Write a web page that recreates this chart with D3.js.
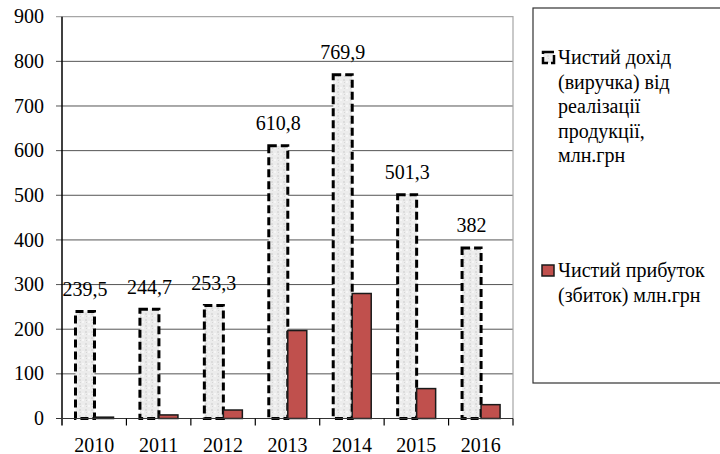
<!DOCTYPE html>
<html>
<head>
<meta charset="utf-8">
<script src="https://cdn.jsdelivr.net/npm/d3@7"></script>
<style>
  body { margin: 0; background: #fff; }
  svg { display: block; }
</style>
</head>
<body>
<svg id="chart" width="720" height="454"></svg>
<script>
const years = ['2010', '2011', '2012', '2013', '2014', '2015', '2016'];
const revenue = [239.5, 244.7, 253.3, 610.8, 769.9, 501.3, 382];
const profit = [3, 8, 19, 197, 280, 67, 31];
const revenueLabels = ['239,5', '244,7', '253,3', '610,8', '769,9', '501,3', '382'];
const yTicks = [0, 100, 200, 300, 400, 500, 600, 700, 800, 900];
const legendRevenue = ['Чистий дохід', '(виручка) від', 'реалізації', 'продукції,', 'млн.грн'];
const legendProfit = ['Чистий прибуток', '(збиток) млн.грн'];

const FONT = 'Liberation Serif, Tinos, Times, DejaVu Serif, serif';
const svg = d3.select('#chart').style('font-family', FONT);

const plotL = 62, plotR = 513, plotT = 16.7, plotB = 418.5;

const x = d3.scaleBand().domain(years).range([plotL, plotR]);
const y = d3.scaleLinear().domain([0, 900]).range([plotB, plotT]);

// speckled fill for revenue bars
const defs = svg.append('defs');
const pat = defs.append('pattern')
  .attr('id', 'speck').attr('patternUnits', 'userSpaceOnUse')
  .attr('width', 6).attr('height', 6);
pat.append('rect').attr('width', 6).attr('height', 6).attr('fill', '#ececec');
pat.append('rect').attr('x', 1).attr('y', 1).attr('width', 2).attr('height', 2).attr('fill', '#dcdcdc');
pat.append('rect').attr('x', 4).attr('y', 3).attr('width', 2).attr('height', 2).attr('fill', '#f6f6f6');
pat.append('rect').attr('x', 2).attr('y', 4).attr('width', 1).attr('height', 1).attr('fill', '#d6d6d6');

// gridlines
svg.append('g').selectAll('line')
  .data(yTicks.filter(d => d > 0 && d < 900))
  .join('line')
  .attr('x1', plotL - 6).attr('x2', plotR)
  .attr('y1', d => y(d)).attr('y2', d => y(d))
  .attr('stroke', '#555').attr('stroke-width', 1);

// plot border top/right
svg.append('path')
  .attr('d', `M${plotL - 6},${y(900)}H${plotR}V${plotB}`)
  .attr('fill', 'none').attr('stroke', '#a6a6a6').attr('stroke-width', 1.2);

// y axis labels
svg.append('g').selectAll('text')
  .data(yTicks)
  .join('text')
  .attr('x', 44).attr('y', d => y(d))
  .attr('dy', '0.33em')
  .attr('text-anchor', 'end')
  .attr('font-size', 20).attr('fill', '#000')
  .text(d => d);

const bw = 19, off = 13.5;

// revenue bars
svg.append('g').selectAll('rect')
  .data(revenue)
  .join('rect')
  .attr('x', (d, i) => x(years[i]) + off)
  .attr('y', d => y(d))
  .attr('width', bw)
  .attr('height', d => y(0) - y(d))
  .attr('fill', 'url(#speck)')
  .attr('stroke', '#000').attr('stroke-width', 3)
  .attr('stroke-dasharray', '8,4');

// profit bars
svg.append('g').selectAll('rect')
  .data(profit)
  .join('rect')
  .attr('x', (d, i) => x(years[i]) + off + bw)
  .attr('y', d => y(d))
  .attr('width', bw)
  .attr('height', d => y(0) - y(d))
  .attr('fill', '#c0504d')
  .attr('stroke', '#1a1a1a').attr('stroke-width', 1.5);

// axes lines
svg.append('line')
  .attr('x1', plotL).attr('x2', plotL).attr('y1', plotT).attr('y2', plotB + 7)
  .attr('stroke', '#000').attr('stroke-width', 1.5);
svg.append('line')
  .attr('x1', plotL - 6).attr('x2', plotR).attr('y1', plotB).attr('y2', plotB)
  .attr('stroke', '#333').attr('stroke-width', 1.2);
svg.append('g').selectAll('line')
  .data(years.slice(1).map(d => x(d)).concat([plotR]))
  .join('line')
  .attr('x1', d => d).attr('x2', d => d)
  .attr('y1', plotB).attr('y2', plotB + 7)
  .attr('stroke', '#000').attr('stroke-width', 1.2);

// x labels
svg.append('g').selectAll('text')
  .data(years)
  .join('text')
  .attr('x', d => x(d) + x.bandwidth() / 2)
  .attr('y', 452)
  .attr('text-anchor', 'middle')
  .attr('font-size', 20)
  .text(d => d);

// value labels
svg.append('g').selectAll('text')
  .data(revenue)
  .join('text')
  .attr('x', (d, i) => x(years[i]) + off + bw / 2)
  .attr('y', d => y(d) - 15.5)
  .attr('text-anchor', 'middle')
  .attr('font-size', 20)
  .text((d, i) => revenueLabels[i]);

// legend
svg.append('rect')
  .attr('x', 533).attr('y', 8).attr('width', 190).attr('height', 375)
  .attr('fill', '#fff').attr('stroke', '#333').attr('stroke-width', 1.2);

svg.append('rect')
  .attr('x', 543).attr('y', 52).attr('width', 11).attr('height', 11)
  .attr('fill', 'url(#speck)').attr('stroke', '#000').attr('stroke-width', 2.5)
  .attr('stroke-dasharray', '11,3');
svg.append('text')
  .attr('font-size', 20)
  .selectAll('tspan')
  .data(legendRevenue)
  .join('tspan')
  .attr('x', 558).attr('y', (d, i) => 64 + i * 24.5)
  .text(d => d);

svg.append('rect')
  .attr('x', 542).attr('y', 265).attr('width', 12).attr('height', 11)
  .attr('fill', '#c0504d').attr('stroke', '#1a1a1a').attr('stroke-width', 1.5);
svg.append('text')
  .attr('font-size', 20)
  .selectAll('tspan')
  .data(legendProfit)
  .join('tspan')
  .attr('x', 558).attr('y', (d, i) => 277 + i * 25)
  .text(d => d);
</script>
</body>
</html>
